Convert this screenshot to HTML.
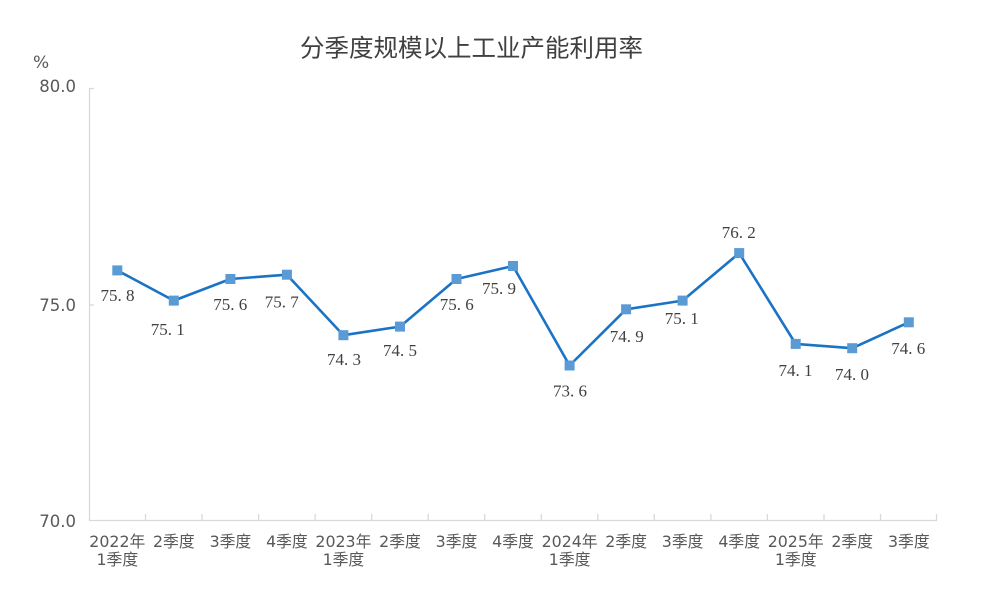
<!DOCTYPE html>
<html><head><meta charset="utf-8"><style>
html,body{margin:0;padding:0;background:#fff;}
svg{display:block;}
.ax{font-family:"DejaVu Sans","Noto Sans CJK SC",sans-serif;fill:#595959;}
.dl{font-family:"Liberation Serif","Noto Serif CJK SC",serif;fill:#404040;font-size:17px;text-anchor:middle;}
</style></head><body>
<svg width="988" height="610" viewBox="0 0 988 610" xmlns="http://www.w3.org/2000/svg">
<rect width="988" height="610" fill="#fff"/>
<text x="471.5" y="56.5" text-anchor="middle" font-family="'Liberation Sans','Noto Sans CJK SC',sans-serif" font-size="24.5" fill="#404040">分季度规模以上工业产能利用率</text>
<text class="ax" x="33" y="68" font-size="17">%</text>
<g class="ax" font-size="16.5" text-anchor="end">
<text x="76" y="92">80.0</text>
<text x="76" y="311">75.0</text>
<text x="76" y="527">70.0</text>
</g>
<g stroke="#d9d9d9" stroke-width="1.3" fill="none">
<line x1="89.5" y1="88.5" x2="89.5" y2="521"/>
<line x1="89" y1="520.5" x2="937" y2="520.5"/>
<line x1="89" y1="88.5" x2="94" y2="88.5"/>
<line x1="89" y1="305" x2="94" y2="305"/>
<line x1="145.5" y1="514" x2="145.5" y2="521"/>
<line x1="202" y1="514" x2="202" y2="521"/>
<line x1="258.6" y1="514" x2="258.6" y2="521"/>
<line x1="315.1" y1="514" x2="315.1" y2="521"/>
<line x1="371.7" y1="514" x2="371.7" y2="521"/>
<line x1="428.2" y1="514" x2="428.2" y2="521"/>
<line x1="484.7" y1="514" x2="484.7" y2="521"/>
<line x1="541.3" y1="514" x2="541.3" y2="521"/>
<line x1="597.8" y1="514" x2="597.8" y2="521"/>
<line x1="654.3" y1="514" x2="654.3" y2="521"/>
<line x1="710.9" y1="514" x2="710.9" y2="521"/>
<line x1="767.4" y1="514" x2="767.4" y2="521"/>
<line x1="824" y1="514" x2="824" y2="521"/>
<line x1="880.5" y1="514" x2="880.5" y2="521"/>
<line x1="936.5" y1="514" x2="936.5" y2="521"/>
</g>
<g class="ax" font-size="15.8" text-anchor="middle">
<text x="117.3" y="547">2022年</text><text x="117.3" y="565">1季度</text>
<text x="173.8" y="547">2季度</text>
<text x="230.4" y="547">3季度</text>
<text x="286.9" y="547">4季度</text>
<text x="343.4" y="547">2023年</text><text x="343.4" y="565">1季度</text>
<text x="400" y="547">2季度</text>
<text x="456.5" y="547">3季度</text>
<text x="513" y="547">4季度</text>
<text x="569.6" y="547">2024年</text><text x="569.6" y="565">1季度</text>
<text x="626.1" y="547">2季度</text>
<text x="682.6" y="547">3季度</text>
<text x="739.2" y="547">4季度</text>
<text x="795.7" y="547">2025年</text><text x="795.7" y="565">1季度</text>
<text x="852.2" y="547">2季度</text>
<text x="908.8" y="547">3季度</text>
</g>
<polyline fill="none" stroke="#1a73c4" stroke-width="2.6" stroke-linejoin="round" points="117.3,270.4 173.8,300.6 230.4,279 286.9,274.7 343.4,335.2 400,326.6 456.5,279 513,266 569.6,365.5 626.1,309.3 682.6,300.6 739.2,253.1 795.7,343.9 852.2,348.2 908.8,322.3"/>
<g fill="#5b9bd5">
<rect x="112.3" y="265.4" width="10" height="10"/>
<rect x="168.8" y="295.6" width="10" height="10"/>
<rect x="225.4" y="274" width="10" height="10"/>
<rect x="281.9" y="269.7" width="10" height="10"/>
<rect x="338.4" y="330.2" width="10" height="10"/>
<rect x="395" y="321.6" width="10" height="10"/>
<rect x="451.5" y="274" width="10" height="10"/>
<rect x="508" y="261" width="10" height="10"/>
<rect x="564.6" y="360.5" width="10" height="10"/>
<rect x="621.1" y="304.3" width="10" height="10"/>
<rect x="677.6" y="295.6" width="10" height="10"/>
<rect x="734.2" y="248.1" width="10" height="10"/>
<rect x="790.7" y="338.9" width="10" height="10"/>
<rect x="847.2" y="343.2" width="10" height="10"/>
<rect x="903.8" y="317.3" width="10" height="10"/>
</g>
<g class="dl">
<text x="117.5" y="301">75. 8</text>
<text x="167.7" y="335">75. 1</text>
<text x="230.3" y="310">75. 6</text>
<text x="281.7" y="307.5">75. 7</text>
<text x="344" y="365">74. 3</text>
<text x="400" y="356">74. 5</text>
<text x="456.7" y="310">75. 6</text>
<text x="499" y="294">75. 9</text>
<text x="570" y="396.5">73. 6</text>
<text x="626.7" y="342">74. 9</text>
<text x="681.7" y="324">75. 1</text>
<text x="738.8" y="238">76. 2</text>
<text x="795.5" y="376">74. 1</text>
<text x="852" y="380">74. 0</text>
<text x="908.3" y="354">74. 6</text>
</g>
</svg>
</body></html>
